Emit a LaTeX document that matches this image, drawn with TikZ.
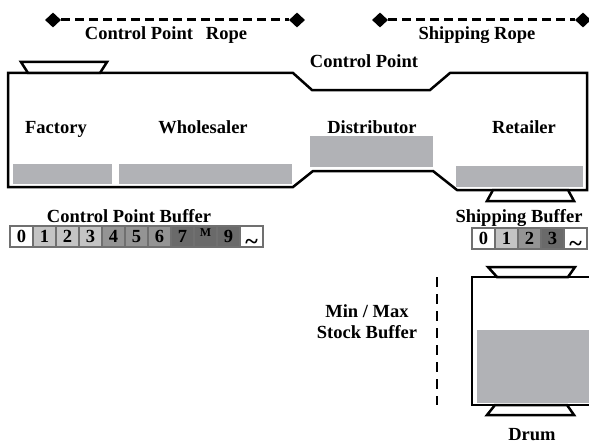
\documentclass[tikz,border=0pt]{standalone}
\usepackage{fontspec}
\setmainfont{Liberation Serif}
\usetikzlibrary{shapes.geometric}
\definecolor{fillgray}{RGB}{177,178,182}
\definecolor{bufA}{RGB}{196,196,196}
\definecolor{bufB}{RGB}{148,148,148}
\definecolor{bufC}{RGB}{106,106,106}
\definecolor{bufedge}{RGB}{112,112,112}
\begin{document}
\begin{tikzpicture}[x=1pt,y=-1pt,
  lbl/.style={font=\fontsize{18.5}{21}\selectfont\bfseries, inner sep=0pt, anchor=base},
  knot/.style={diamond, fill=black, inner sep=0pt, minimum width=16pt, minimum height=15pt},
  rope/.style={line width=3pt, dash pattern=on 9pt off 5pt},
  mmline/.style={line width=2.5pt, dash pattern=on 10pt off 7pt},
  wall/.style={line width=2.5pt, line join=miter},
  hopper/.style={line width=2.5pt, fill=white, line join=miter},
  stock/.style={fill=fillgray},
  cell/.style={draw=bufedge, line width=2pt, minimum width=23pt, minimum height=21pt,
    inner sep=0pt, font=\fontsize{18.5}{20}\selectfont\bfseries},
]
\useasboundingbox (0,0) rectangle (589,444);

% ropes
\node[knot] (k1) at (53,20) {};
\node[knot] (k2) at (297,20) {};
\node[knot] (k3) at (380,20) {};
\node[knot] (k4) at (583,20) {};
\draw[rope] (k1) -- (k2);
\draw[rope] (k3) -- (k4);
\node[lbl] (cprope) at (166,40) {Control Point\hspace{13pt}Rope};
\node[lbl] (shrope) at (477,40) {Shipping Rope};

% stock fills
\fill[stock] (13,164) rectangle (112,184);
\fill[stock] (119,164) rectangle (292,184);
\fill[stock] (310,136) rectangle (433,167);
\fill[stock] (456,166) rectangle (583,187);

% main outline
\draw[wall] (8,73) -- (293,73) -- (312,90) -- (430,90) -- (450,73) -- (587,73)
  -- (587,190) -- (457,190) -- (433,171) -- (313,171) -- (293,187) -- (8,187) -- cycle;

% hoppers
\draw[hopper] (21,62) -- (107,62) -- (100,73) -- (28,73) -- cycle;
\draw[hopper] (493,190) -- (568,190) -- (574,201) -- (487,201) -- cycle;

\node[lbl] (cp) at (364,68) {Control Point};
\node[lbl] (factory) at (56,133) {Factory};
\node[lbl] (wholesaler) at (203,133) {Wholesaler};
\node[lbl] (distributor) at (372,133) {Distributor};
\node[lbl] (retailer) at (524,133) {Retailer};

% buffers
\node[lbl] (cpbuf) at (129,222) {Control Point Buffer};
\node[lbl] (shbuf) at (519,222) {Shipping Buffer};

\node[cell, fill=white] (c0) at (21.5,236.5) {0};
\node[cell, fill=bufA]  (c1) at (44.5,236.5) {1};
\node[cell, fill=bufA]  (c2) at (67.5,236.5) {2};
\node[cell, fill=bufA]  (c3) at (90.5,236.5) {3};
\node[cell, fill=bufB]  (c4) at (113.5,236.5) {4};
\node[cell, fill=bufB]  (c5) at (136.5,236.5) {5};
\node[cell, fill=bufB]  (c6) at (159.5,236.5) {6};
\node[cell, fill=bufC]  (c7) at (182.5,236.5) {7};
\node[cell, fill=bufC]  (c8) at (205.5,236.5) {\smash{\fontsize{12}{12}\selectfont\raisebox{0pt}{M}}};
\node[cell, fill=bufC]  (c9) at (228.5,236.5) {9};
\node[cell, fill=white] (c10) at (251.5,236.5) {\smash{\fontsize{24}{24}\selectfont\raisebox{-13pt}{\textasciitilde}}};

\node[cell, fill=white] (s0) at (483.5,238) {0};
\node[cell, fill=bufA]  (s1) at (506.5,238) {1};
\node[cell, fill=bufB]  (s2) at (529.5,238) {2};
\node[cell, fill=bufC]  (s3) at (552.5,238) {3};
\node[cell, fill=white] (s4) at (575.5,238) {\smash{\fontsize{24}{24}\selectfont\raisebox{-13pt}{\textasciitilde}}};

% drum
\fill[stock] (477,330) rectangle (595,403);
\draw[wall] (595,277) -- (472,277) -- (472,405) -- (595,405);
\draw[hopper] (488,267) -- (575,267) -- (568,277) -- (497,277) -- cycle;
\draw[hopper] (495,405) -- (567,405) -- (574,415) -- (487,415) -- cycle;
\node[lbl] (drum) at (532,440) {Drum};

% min/max
\coordinate (mmtop) at (437,277);
\coordinate (mmbot) at (437,405);
\draw[mmline] (mmtop) -- (mmbot);
\node[lbl, align=center] (minmax) at (367,338) {Min / Max\\Stock Buffer};
\end{tikzpicture}
\end{document}
